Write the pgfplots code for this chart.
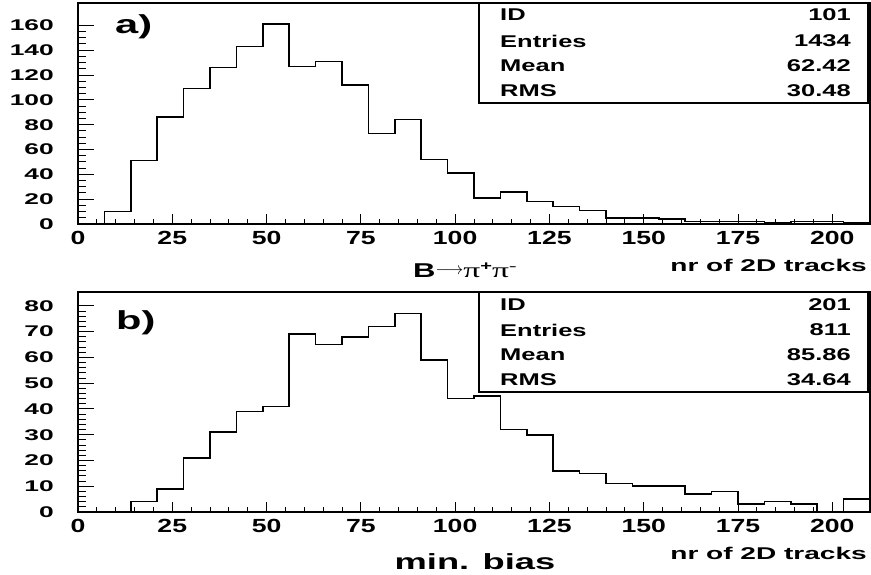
\documentclass[border=0pt]{standalone}
\usepackage{fontspec}
\setmainfont{Liberation Sans}
\usepackage{pgfplots}
\usepackage{pgfplotstable}
\pgfplotsset{compat=1.18}
\newfontfamily\fYT{Liberation Sans}[FakeStretch=1.7]
\newfontfamily\fXT{Liberation Sans}[FakeStretch=1.4]
\newfontfamily\fST{Liberation Sans}[FakeStretch=1.5]
\newfontfamily\fLB{Liberation Sans}[FakeStretch=1.6]
\newfontfamily\fAX{Liberation Sans}[FakeStretch=1.65]
\newfontfamily\fBB{Liberation Sans}[FakeStretch=1.55]
\newfontfamily\fSym{Liberation Serif}[FakeStretch=1.6]

\pgfplotstableread{
x y
0 0
7 10
14 51
21 86
28 109
35 126
42 143
49 161
56 127
63 131
70 112
77 73
84 84
91 52
98 41
105 21
112 26
119 18
126 14
133 11
140 5
147 5
154 4
161 2
168 2
175 2
182 1
189 2
196 2
203 1
210 1
}\histA

\pgfplotstableread{
x y
0 0
7 0
14 4
21 9
28 21
35 31
42 39
49 41
56 69
63 65
70 68
77 72
84 77
91 59
98 44
105 45
112 32
119 30
126 16
133 15
140 11
147 10
154 10
161 7
168 8
175 3
182 4
189 3
196 0
203 5
210 5
}\histB

\pgfplotsset{rootstyle/.style={
  scale only axis, width=792pt,
  xmin=0, xmax=210,
  xtick={0,25,...,200}, minor x tick num=4,
  tick align=inside, xtick pos=bottom, ytick pos=left,
  axis line style={line width=1.5pt},
  every tick/.style={line width=1pt, black},
  xtick style={/pgfplots/major tick length=10pt, /pgfplots/minor tick length=5pt},
  ytick style={/pgfplots/major tick length=16pt, /pgfplots/minor tick length=8pt},
  /pgf/number format/assume math mode=true,
  xticklabel style={font=\fXT\bfseries\fontsize{19}{19}\selectfont, inner sep=0pt, anchor=north, yshift=-7pt},
  yticklabel style={font=\fYT\bfseries\fontsize{15.5}{15.5}\selectfont, inner sep=0pt, anchor=east, xshift=-24pt},
}}

\begin{document}
\begin{tikzpicture}
\useasboundingbox (0pt,0pt) rectangle (871pt,575pt);

\begin{axis}[rootstyle, at={(78pt,351pt)}, anchor=south west, height=221pt,
  ymin=0, ymax=178, ytick={0,20,...,160}, minor y tick num=3]
\addplot[const plot, line width=1.6pt, black] table[x=x,y=y] {\histA};
\end{axis}

\begin{axis}[rootstyle, at={(78pt,63pt)}, anchor=south west, height=220pt,
  ymin=0, ymax=85.4, ytick={0,10,...,80}, minor y tick num=4]
\addplot[const plot, line width=1.6pt, black] table[x=x,y=y] {\histB};
\end{axis}

% stats boxes
\draw[line width=1.5pt, fill=white] (479pt,472pt) rectangle (868pt,572pt);
\draw[line width=1.5pt, fill=white] (479pt,183pt) rectangle (868pt,283pt);

\begin{scope}[every node/.style={inner sep=0pt, font=\fST\bfseries\fontsize{17}{17}\selectfont}]
\node[anchor=west] at (500pt,560pt) {ID};
\node[anchor=west] at (500pt,534pt) {Entries};
\node[anchor=west] at (500pt,509pt) {Mean};
\node[anchor=west] at (500pt,484pt) {RMS};
\node[anchor=east] at (851pt,560pt) {101};
\node[anchor=east] at (851pt,534pt) {1434};
\node[anchor=east] at (851pt,509pt) {62.42};
\node[anchor=east] at (851pt,484pt) {30.48};

\node[anchor=west] at (500pt,270pt) {ID};
\node[anchor=west] at (500pt,245pt) {Entries};
\node[anchor=west] at (500pt,220pt) {Mean};
\node[anchor=west] at (500pt,195pt) {RMS};
\node[anchor=east] at (851pt,270pt) {201};
\node[anchor=east] at (851pt,245pt) {811};
\node[anchor=east] at (851pt,220pt) {85.86};
\node[anchor=east] at (851pt,195pt) {34.64};
\end{scope}

% panel labels
\node[anchor=west, inner sep=0pt, font=\fLB\bfseries\fontsize{26}{26}\selectfont] at (115pt,548pt) {a)};
\node[anchor=west, inner sep=0pt, font=\fLB\bfseries\fontsize{26}{26}\selectfont] at (116pt,252pt) {b)};

% axis titles
\node[anchor=east, inner sep=0pt, font=\fAX\bfseries\fontsize{17}{17}\selectfont] at (867pt,310pt) {nr of 2D tracks};
\node[anchor=east, inner sep=0pt, font=\fAX\bfseries\fontsize{17}{17}\selectfont] at (867pt,22pt) {nr of 2D tracks};
\node[anchor=base west, inner sep=0pt] at (413pt,297pt) {{\fBB\bfseries\fontsize{20}{20}\selectfont B}{\fontsize{18}{18}\selectfont\raisebox{3pt}{$\longrightarrow$}}{\fSym\fontsize{21}{21}\selectfont π\raisebox{7pt}{\fBB\bfseries\fontsize{13}{13}\selectfont +}π\raisebox{7pt}{\fontsize{14}{14}\selectfont -}}};
\node[anchor=base, inner sep=0pt, font=\fAX\bfseries\fontsize{22}{22}\selectfont] at (475pt,5pt) {min. bias};
\end{tikzpicture}
\end{document}
